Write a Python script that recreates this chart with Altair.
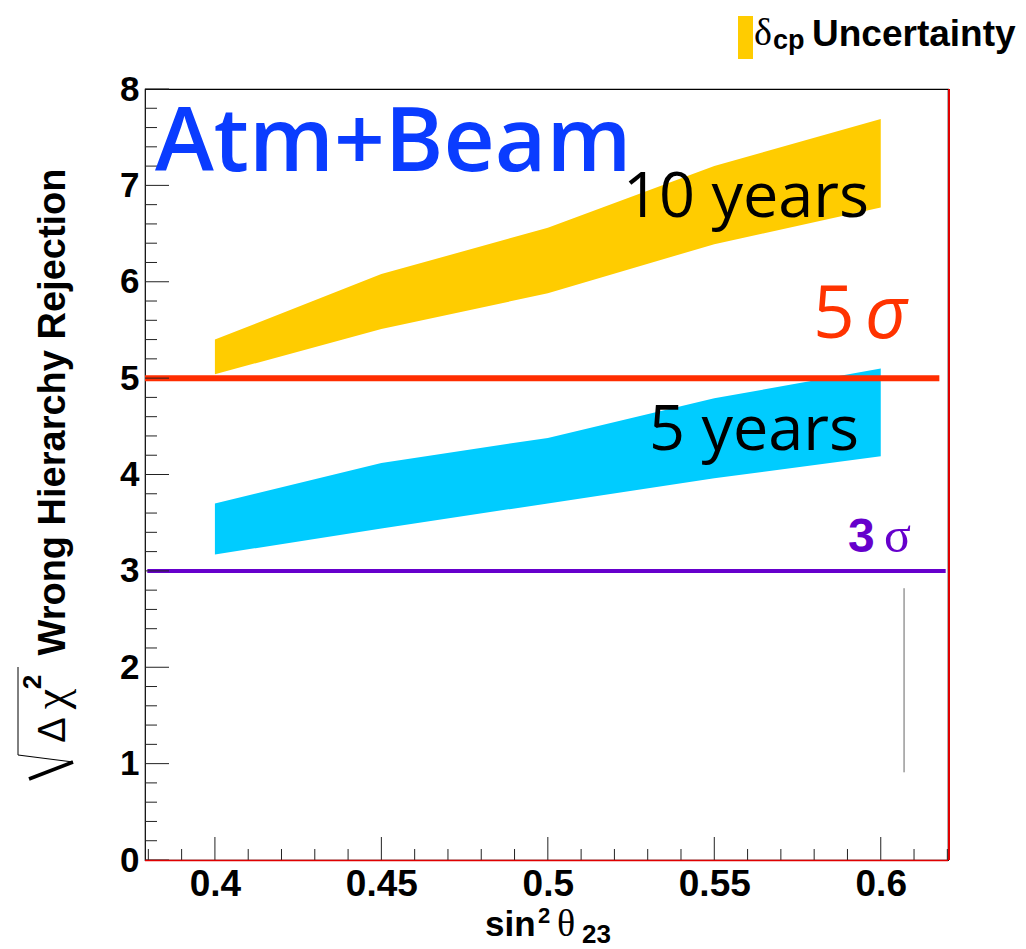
import altair as alt
import pandas as pd

# ---------------- data ----------------
sin2 = [0.40, 0.45, 0.50, 0.55, 0.60]
y10_hi = [5.40, 6.08, 6.56, 7.20, 7.69]
y10_lo = [5.04, 5.51, 5.88, 6.39, 6.77]
y5_hi = [3.70, 4.12, 4.38, 4.79, 5.10]
y5_lo = [3.17, 3.44, 3.70, 3.96, 4.19]

x_major = [0.40, 0.45, 0.50, 0.55, 0.60]
x_minor = [0.38, 0.39, 0.41, 0.42, 0.43, 0.44, 0.46, 0.47, 0.48, 0.49,
           0.51, 0.52, 0.53, 0.54, 0.56, 0.57, 0.58, 0.59, 0.61, 0.62]
y_major = [0, 1, 2, 3, 4, 5, 6, 7, 8]
y_minor = [0.2, 0.4, 0.6, 0.8, 1.2, 1.4, 1.6, 1.8, 2.2, 2.4, 2.6, 2.8,
           3.2, 3.4, 3.6, 3.8, 4.2, 4.4, 4.6, 4.8, 5.2, 5.4, 5.6, 5.8,
           6.2, 6.4, 6.6, 6.8, 7.2, 7.4, 7.6, 7.8]

sigma5 = {"x": 0.379, "x2": 0.6176, "y": 5.0}
sigma3 = {"x": 0.3797, "x2": 0.6195, "y": 3.0}
thin_line = {"x": 0.607, "y": 0.91, "y2": 2.82}

series = ["10 years", "5 years"]
band_colors = ["#FFCC00", "#00CCFF"]

W, H = 803, 771
xscale = alt.Scale(domain=[0.379, 0.6202], nice=False, zero=False)
yscale = alt.Scale(domain=[0, 8], nice=False, zero=False)

rows = []
for i, x in enumerate(sin2):
    rows.append({"x": x, "hi": y10_hi[i], "lo": y10_lo[i], "s": series[0]})
    rows.append({"x": x, "hi": y5_hi[i], "lo": y5_lo[i], "s": series[1]})
band_df = pd.DataFrame(rows)

LAB = "Liberation Sans"
SERIF = "Liberation Serif"
OPEN = "Open Sans"

XAX = alt.Axis(values=x_major, format=".2~f", title=None, ticks=False, domain=False,
               grid=False, labelFont=LAB, labelFontWeight="bold", labelFontSize=37,
               labelColor="black", labelPadding=6, labelFlush=False, labelOverlap=False)
YAX = alt.Axis(values=y_major, format="d", title=None, ticks=False, domain=False,
               grid=False, labelFont=LAB, labelFontWeight="bold", labelFontSize=35,
               labelColor="black", labelPadding=6, labelFlush=False, labelOverlap=False)


def X(f):
    return alt.X(f, scale=xscale, axis=XAX)


def Y(f):
    return alt.Y(f, scale=yscale, axis=YAX)


bands = alt.Chart(band_df).mark_area(opacity=1).encode(
    x=X("x:Q"), y=Y("hi:Q"), y2="lo:Q",
    color=alt.Color("s:N", scale=alt.Scale(domain=series, range=band_colors), legend=None),
)

red = alt.Chart(pd.DataFrame([sigma5])).mark_rule(color="#FF2D00", strokeWidth=6).encode(
    x=X("x:Q"), x2="x2:Q", y=Y("y:Q"))
purple = alt.Chart(pd.DataFrame([sigma3])).mark_rule(color="#6600CC", strokeWidth=4).encode(
    x=X("x:Q"), x2="x2:Q", y=Y("y:Q"))
thin = alt.Chart(pd.DataFrame([thin_line])).mark_rule(color="#666666", strokeWidth=1).encode(
    x=X("x:Q"), y=Y("y:Q"), y2="y2:Q")

tick_col = "#222222"
xmaj = alt.Chart(pd.DataFrame({"v": x_major})).mark_rule(color=tick_col, strokeWidth=1).encode(
    x=X("v:Q"), y=alt.value(H), y2=alt.value(H - 23))
xmin = alt.Chart(pd.DataFrame({"v": x_minor})).mark_rule(color=tick_col, strokeWidth=1).encode(
    x=X("v:Q"), y=alt.value(H), y2=alt.value(H - 11))
ymaj = alt.Chart(pd.DataFrame({"v": y_major})).mark_rule(color=tick_col, strokeWidth=1).encode(
    y=Y("v:Q"), x=alt.value(0), x2=alt.value(24))
ymin = alt.Chart(pd.DataFrame({"v": y_minor})).mark_rule(color=tick_col, strokeWidth=1).encode(
    y=Y("v:Q"), x=alt.value(0), x2=alt.value(12))

# frame edges
right_red = alt.Chart(pd.DataFrame({"a": [0]})).mark_rule(color="#E00000", strokeWidth=2).encode(
    x=alt.value(W + 1), y=alt.value(0), y2=alt.value(H))
bottom_red = alt.Chart(pd.DataFrame({"a": [0]})).mark_rule(color="#E00000", strokeWidth=1.5).encode(
    x=alt.value(0), x2=alt.value(W), y=alt.value(H + 0.5))


def txt(s, px, py, size, font=LAB, weight="normal", color="black", style="normal",
        align="left", baseline="alphabetic", angle=0):
    kw = dict(font=font, fontSize=size, fontWeight=weight, color=color, fontStyle=style,
              align=align, baseline=baseline)
    if angle:
        kw["angle"] = angle
    return alt.Chart(pd.DataFrame({"t": [s]})).mark_text(**kw).encode(
        x=alt.value(px), y=alt.value(py), text="t:N")


texts = [
    txt("Atm+Beam", 10, 82, 89, font=OPEN, weight=600, color="#0A3CFF"),
    txt("10 years", 478, 128, 63, font=OPEN, weight=500),
    txt("5 years", 504, 361, 63, font=OPEN, weight=500),
    txt("5", 668, 249, 73, font=OPEN, weight=500, color="#FF3300"),
    txt("σ", 720, 249, 73, font=OPEN, weight=500, color="#FF3300", style="italic"),
    txt("3", 703, 463, 48, weight="bold", color="#6600CC"),
    txt("σ", 739, 463, 50, font=SERIF, color="#6600CC"),
    # legend
    txt("δ", 609, -44, 38, font=SERIF),
    txt("cp", 628, -40, 27, weight="bold"),
    txt("Uncertainty", 667, -43, 37, weight="bold"),
    # y title
    txt("Wrong Hierarchy Rejection", -80, 323, 38, weight="bold", align="center", angle=270),
    txt("Δ", -80, 641, 38, align="center", angle=270),
    txt("χ", -79, 610, 46, font=SERIF, align="center", angle=270),
    txt("2", -104, 593, 26, weight="bold", align="center", angle=270),
    # x title
    txt("sin", 340, 847, 35, weight="bold"),
    txt("2", 393, 834, 22, weight="bold"),
    txt("θ", 412, 847, 38, font=SERIF),
    txt("23", 437, 854, 26, weight="bold"),
]

legend_box = alt.Chart(pd.DataFrame({"a": [0]})).mark_rect(color="#FFCC00").encode(
    x=alt.value(593), x2=alt.value(608), y=alt.value(-73), y2=alt.value(-30))


def seg(x1, y1, x2, y2, w):
    return alt.Chart(pd.DataFrame({"a": [0]})).mark_rule(color="black", strokeWidth=w).encode(
        x=alt.value(x1), y=alt.value(y1), x2=alt.value(x2), y2=alt.value(y2))


radical = [
    seg(-127, 578, -127, 666, 1),
    seg(-127, 666, -72, 673, 1.2),
    seg(-72, 673, -116, 690, 3.5),
]

chart = alt.layer(
    bands, red, purple, thin, xmaj, xmin, ymaj, ymin, right_red, bottom_red,
    legend_box, *radical, *texts
).properties(
    width=W, height=H,
    autosize=alt.AutoSizeParams(type="none"),
    padding={"left": 137, "top": 81, "right": 70, "bottom": 89},
    background="white",
).configure_view(stroke="black", strokeWidth=1.2)

chart.save("out.html", embed_options={"renderer": "svg", "actions": False})
